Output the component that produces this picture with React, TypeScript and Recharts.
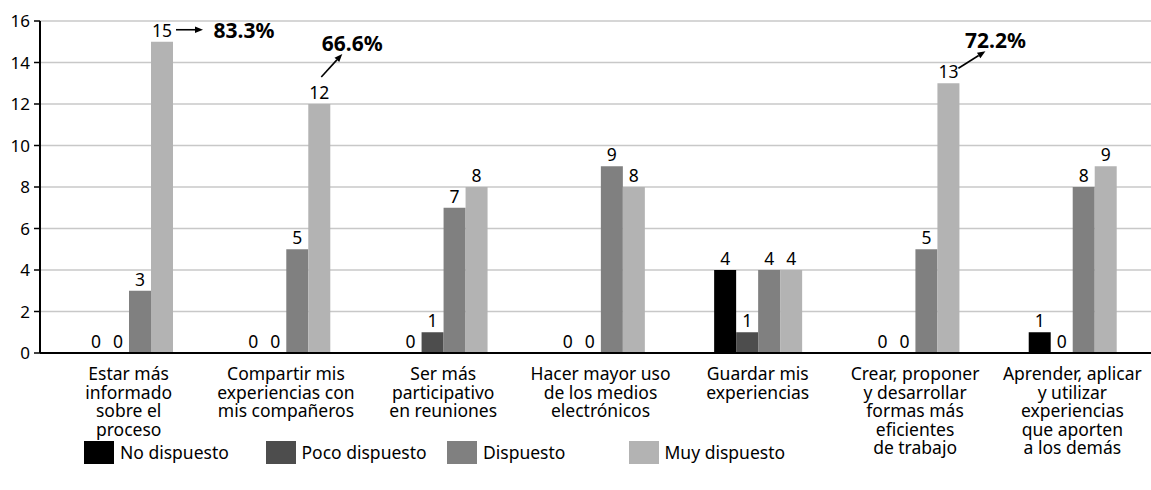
import { Bar, BarChart, CartesianGrid, LabelList, XAxis, YAxis } from "recharts";

const categories = [
  "Estar más\ninformado\nsobre el\nproceso",
  "Compartir mis\nexperiencias con\nmis compañeros",
  "Ser más\nparticipativo\nen reuniones",
  "Hacer mayor uso\nde los medios\nelectrónicos",
  "Guardar mis\nexperiencias",
  "Crear, proponer\ny desarrollar\nformas más\neficientes\nde trabajo",
  "Aprender, aplicar\ny utilizar\nexperiencias\nque aporten\na los demás",
];

const noDispuesto = [0, 0, 0, 0, 4, 0, 1];
const pocoDispuesto = [0, 0, 1, 0, 1, 0, 0];
const dispuesto = [3, 5, 7, 9, 4, 5, 8];
const muyDispuesto = [15, 12, 8, 8, 4, 13, 9];

const yTicks = [0, 2, 4, 6, 8, 10, 12, 14, 16];

// percentage callouts on the "Muy dispuesto" bars
const callouts = [
  { index: 0, text: "83.3%" },
  { index: 1, text: "66.6%" },
  { index: 5, text: "72.2%" },
];

// arrow / text offsets from the bar's top centre
const calloutLayout: Record<number, { from: [number, number]; to: [number, number]; text: [number, number] }> = {
  0: { from: [14, -12], to: [41, -12], text: [82, -12] },
  1: { from: [2, -27], to: [23, -50], text: [33, -61] },
  5: { from: [10, -15], to: [37, -32], text: [47, -43] },
};

const series = [
  { key: "noDispuesto", name: "No dispuesto", color: "#000000" },
  { key: "pocoDispuesto", name: "Poco dispuesto", color: "#4d4d4d" },
  { key: "dispuesto", name: "Dispuesto", color: "#808080" },
  { key: "muyDispuesto", name: "Muy dispuesto", color: "#b3b3b3" },
];

const data = categories.map((category, i) => ({
  category,
  noDispuesto: noDispuesto[i],
  pocoDispuesto: pocoDispuesto[i],
  dispuesto: dispuesto[i],
  muyDispuesto: muyDispuesto[i],
}));

const FONT = "'Noto Sans', sans-serif";

function Arrow({ x1, y1, x2, y2 }: { x1: number; y1: number; x2: number; y2: number }) {
  const angle = Math.atan2(y2 - y1, x2 - x1);
  const len = 8;
  const half = 3.2;
  const bx = x2 - len * Math.cos(angle);
  const by = y2 - len * Math.sin(angle);
  const px = -Math.sin(angle) * half;
  const py = Math.cos(angle) * half;
  return (
    <g>
      <line x1={x1} y1={y1} x2={bx} y2={by} stroke="#000" strokeWidth={1.6} />
      <polygon points={`${x2},${y2} ${bx + px},${by + py} ${bx - px},${by - py}`} fill="#000" />
    </g>
  );
}

function valueLabel(withCallouts: boolean) {
  return (props: any) => {
    const { x, y, width, height, value, index } = props;
    const cx = Number(x) + Number(width) / 2;
    const top = Math.min(Number(y), Number(y) + Number(height || 0));
    const callout = withCallouts ? callouts.find((c) => c.index === index) : undefined;
    const layout = callout ? calloutLayout[callout.index] : undefined;
    return (
      <g>
        <text x={cx} y={top - 5} textAnchor="middle" fontSize={17.5} fontFamily={FONT} fill="#000">
          {value}
        </text>
        {callout && layout && (
          <g>
            <Arrow
              x1={cx + layout.from[0]}
              y1={top + layout.from[1]}
              x2={cx + layout.to[0]}
              y2={top + layout.to[1]}
            />
            <text
              x={cx + layout.text[0]}
              y={top + layout.text[1]}
              textAnchor="middle"
              dominantBaseline="central"
              fontSize={21}
              fontWeight="bold"
              fontFamily={FONT}
              fill="#000"
            >
              {callout.text}
            </text>
          </g>
        )}
      </g>
    );
  };
}

function CategoryTick(props: any) {
  const { x, y, payload } = props;
  const lines = String(payload.value).split("\n");
  return (
    <text x={x} y={y} textAnchor="middle" fontSize={17.5} fontFamily={FONT} fill="#000">
      {lines.map((line, i) => (
        <tspan key={i} x={x} dy={i === 0 ? 19 : 18.5}>
          {line}
        </tspan>
      ))}
    </text>
  );
}

export default function App() {
  return (
    <div style={{ position: "absolute", left: 0, top: 0, width: 1151, height: 490, background: "#fff" }}>
      <BarChart
        width={1151}
        height={490}
        data={data}
        margin={{ top: 21, right: 0, left: 0, bottom: 0 }}
        barSize={22}
        barGap={0}
      >
        <CartesianGrid vertical={false} stroke="#c8c8c8" strokeWidth={1.5} />
        <XAxis
          dataKey="category"
          height={137}
          interval={0}
          tick={<CategoryTick />}
          tickLine={false}
          axisLine={{ stroke: "#000", strokeWidth: 2 }}
          padding={{ left: 10, right: 0 }}
        />
        <YAxis
          width={40}
          domain={[0, 16]}
          ticks={yTicks}
          interval={0}
          tickSize={6}
          tickMargin={4}
          tick={{ fontSize: 17, fontFamily: FONT, fill: "#000" }}
          tickLine={{ stroke: "#000", strokeWidth: 1.5 }}
          axisLine={{ stroke: "#000", strokeWidth: 2 }}
        />
        {series.map((s) => (
          <Bar
            key={s.key}
            dataKey={s.key}
            name={s.name}
            fill={s.color}
            minPointSize={0.01}
            isAnimationActive={false}
          >
            <LabelList dataKey={s.key} content={valueLabel(s.key === "muyDispuesto")} />
          </Bar>
        ))}
      </BarChart>
      <div
        style={{
          position: "absolute",
          left: 84,
          top: 440,
          display: "flex",
          fontFamily: FONT,
          fontSize: 17.5,
          color: "#000",
        }}
      >
        {series.map((s) => (
          <div key={s.key} style={{ width: 181.5, display: "flex", alignItems: "center" }}>
            <span style={{ display: "inline-block", width: 30, height: 23, background: s.color, marginRight: 6 }} />
            <span>{s.name}</span>
          </div>
        ))}
      </div>
    </div>
  );
}
